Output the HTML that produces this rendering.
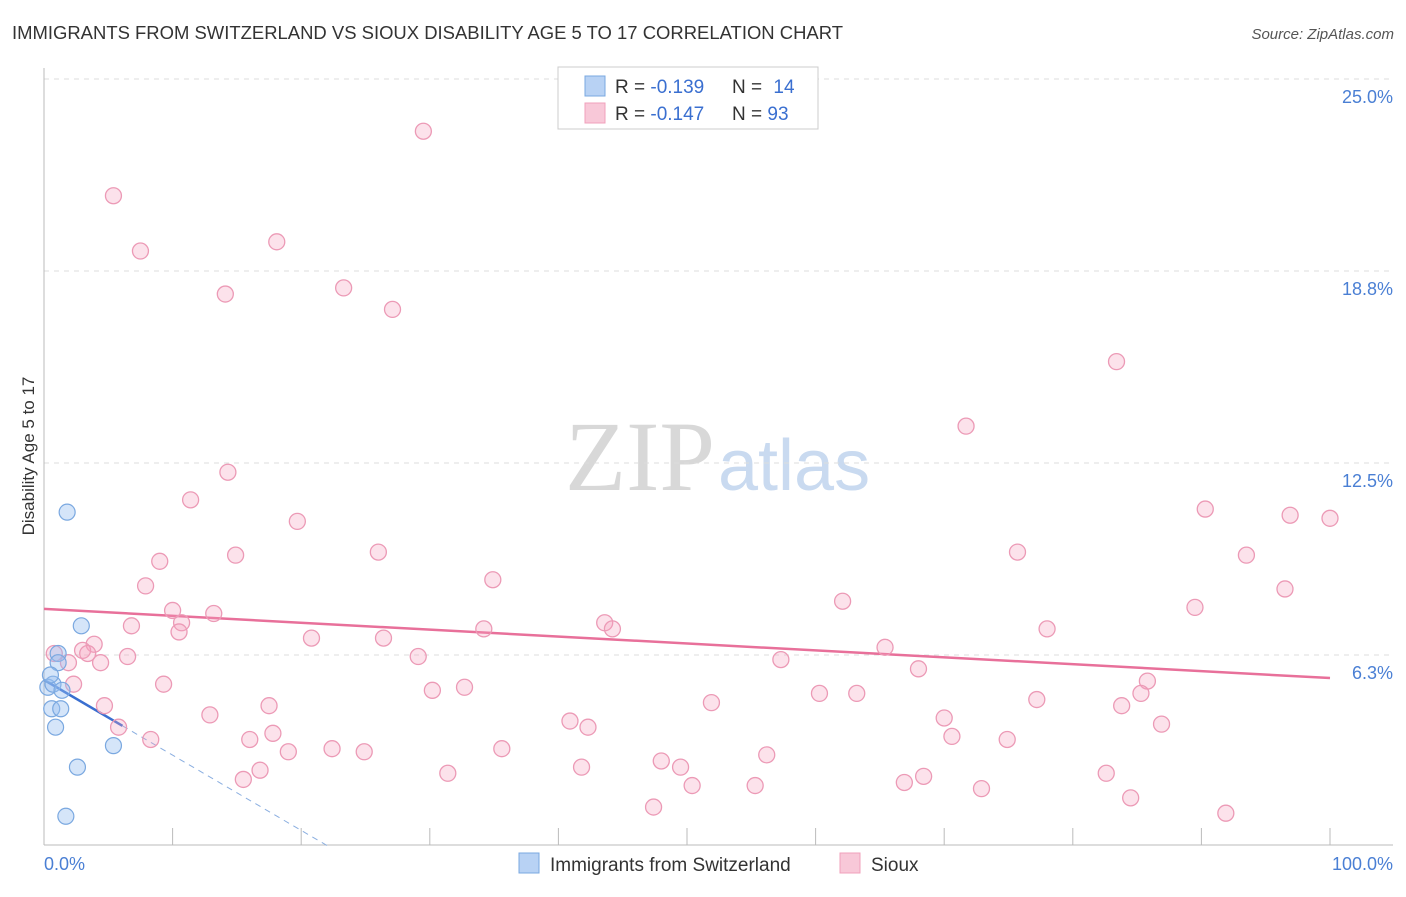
<!DOCTYPE html>
<html><head><meta charset="utf-8"><style>
body{margin:0;background:#fff;font-family:"Liberation Sans",sans-serif;}
svg text{font-family:"Liberation Sans",sans-serif;}
</style></head><body>
<svg id="chart" width="1406" height="892" xmlns="http://www.w3.org/2000/svg">
<text x="12" y="39" font-size="18.4" fill="#333" textLength="831" lengthAdjust="spacingAndGlyphs">IMMIGRANTS FROM SWITZERLAND VS SIOUX DISABILITY AGE 5 TO 17 CORRELATION CHART</text>
<text x="1394" y="39" font-size="15" fill="#555" text-anchor="end" font-style="italic">Source: ZipAtlas.com</text>
<g>
<text x="715" y="490" font-size="100" fill="#d8d8d8" text-anchor="end" style="font-family:'Liberation Serif',serif">ZIP</text>
<text x="718" y="490" font-size="72" fill="#c9daf0">atlas</text>
</g>
<g id="grid"></g>
<g id="axes"></g>
<g id="lines"></g>
<g id="pts"></g>
<text transform="translate(34,456) rotate(-90)" font-size="17" fill="#333" text-anchor="middle">Disability Age 5 to 17</text>
<text x="44" y="870" font-size="18" fill="#4a7fd4">0.0%</text>
<text x="1393" y="870" font-size="18" fill="#4a7fd4" text-anchor="end">100.0%</text>
<g>
<rect x="558" y="67" width="260" height="62" fill="#fff" stroke="#ccc"/>
<rect x="585" y="76" width="20" height="20" fill="#b8d2f4" stroke="#7aa8e0"/>
<rect x="585" y="103" width="20" height="20" fill="#f8c8d8" stroke="#f0a0bb"/>
<text x="615" y="93" font-size="19" fill="#333">R = <tspan fill="#3a6fd0">-0.139</tspan></text>
<text x="732" y="93" font-size="19" fill="#333">N = <tspan fill="#3a6fd0" dx="6">14</tspan></text>
<text x="615" y="120" font-size="19" fill="#333">R = <tspan fill="#3a6fd0">-0.147</tspan></text>
<text x="732" y="120" font-size="19" fill="#333">N = <tspan fill="#3a6fd0">93</tspan></text>
</g>
<g>
<rect x="519" y="853" width="20" height="20" fill="#b8d2f4" stroke="#7aa8e0"/>
<text x="550" y="871" font-size="19" fill="#333">Immigrants from Switzerland</text>
<rect x="840" y="853" width="20" height="20" fill="#f8c8d8" stroke="#f0a0bb"/>
<text x="871" y="871" font-size="19" fill="#333">Sioux</text>
</g>
</svg>
<script>
const yTicks=[6.25,12.5,18.75,25];
const yTickLabels=["6.3%","12.5%","18.8%","25.0%"];
const xTicks=[10,20,30,40,50,60,70,80,90,100];
const pinkX=[29.5,5.4,7.5,18.1,14.1,23.3,27.1,83.4,71.7,14.3,11.4,19.7,90.3,96.9,100,14.9,26.0,9.0,75.7,93.5,7.9,34.9,96.5,62.1,10.0,13.2,89.5,6.8,10.7,10.5,34.2,43.6,44.2,20.8,26.4,78.0,3.9,3.0,0.8,3.4,1.9,4.4,6.5,29.1,57.3,65.4,68.0,2.3,9.3,30.2,32.7,60.3,63.2,85.8,85.3,4.7,17.5,51.9,77.2,83.8,12.9,40.9,42.3,70.0,86.9,5.8,8.3,16.0,17.8,70.6,74.9,19.0,22.4,24.9,35.6,56.2,48.0,41.8,49.5,31.4,15.5,16.8,68.4,82.6,66.9,50.4,55.3,72.9,84.5,47.4,91.9];
const pinkY=[23.3,21.2,19.4,19.7,18.0,18.2,17.5,15.8,13.7,12.2,11.3,10.6,11.0,10.8,10.7,9.5,9.6,9.3,9.6,9.5,8.5,8.7,8.4,8.0,7.7,7.6,7.8,7.2,7.3,7.0,7.1,7.3,7.1,6.8,6.8,7.1,6.6,6.4,6.3,6.3,6.0,6.0,6.2,6.2,6.1,6.5,5.8,5.3,5.3,5.1,5.2,5.0,5.0,5.4,5.0,4.6,4.6,4.7,4.8,4.6,4.3,4.1,3.9,4.2,4.0,3.9,3.5,3.5,3.7,3.6,3.5,3.1,3.2,3.1,3.2,3.0,2.8,2.6,2.6,2.4,2.2,2.5,2.3,2.4,2.1,2.0,2.0,1.9,1.6,1.3,1.1];
const blueX=[1.8,2.9,1.1,1.1,0.3,0.7,1.4,0.6,1.3,0.9,5.4,2.6,1.7,0.5];
const blueY=[10.9,7.2,6.3,6.0,5.2,5.3,5.1,4.5,4.5,3.9,3.3,2.6,1.0,5.6];
const pinkTrend=[7.75,5.5];   // y at x=0, x=100
const blueTrend=[5.44,-0.245]; // intercept, slope per %
const X=v=>44+v*12.86, Y=v=>847-v*30.72;
const NS="http://www.w3.org/2000/svg";
function mk(p,t,a){const e=document.createElementNS(NS,t);for(const k in a)e.setAttribute(k,a[k]);p.appendChild(e);return e;}
const grid=document.getElementById('grid'),axes=document.getElementById('axes'),lines=document.getElementById('lines'),pts=document.getElementById('pts');
yTicks.forEach((t,i)=>{
 const l=mk(grid,'line',{x1:44,x2:1393,y1:Y(t),y2:Y(t),stroke:'#ddd','stroke-dasharray':'5,5'});
 
 
 const tx=mk(grid,'text',{x:1393,y:Y(t)+24,'font-size':18,fill:'#4a7fd4','text-anchor':'end'});
 tx.textContent=yTickLabels[i];
 
 
});
const ya=mk(axes,'line',{x1:44,x2:44,y1:68,y2:845,stroke:'#bbb'});


const xa=mk(axes,'line',{x1:44,x2:1393,y1:845,y2:845,stroke:'#bbb'});


xTicks.forEach(t=>{
 const l=mk(axes,'line',{x1:X(t),x2:X(t),y1:828,y2:845,stroke:'#bbb'});
 
 
});
pinkX.forEach((x,i)=>{
 const c=mk(pts,'circle',{cx:X(x),cy:Y(pinkY[i]),r:8,fill:'rgba(244,160,190,0.3)',stroke:'#ec9ab6','stroke-width':1.3});
 
 
});
blueX.forEach((x,i)=>{
 const c=mk(pts,'circle',{cx:X(x),cy:Y(blueY[i]),r:8,fill:'rgba(150,190,240,0.4)',stroke:'#7aa8e0','stroke-width':1.2});
 
 
});
const pl=mk(lines,'line',{x1:X(0),y1:Y(pinkTrend[0]),x2:X(100),y2:Y(pinkTrend[1]),stroke:'#e8709a','stroke-width':2.5});


const bEnd=6.1, bZero=-blueTrend[0]/blueTrend[1];
const bl=mk(lines,'line',{x1:X(0),y1:Y(blueTrend[0]),x2:X(bEnd),y2:Y(blueTrend[0]+blueTrend[1]*bEnd),stroke:'#3a6fd0','stroke-width':2.5});


const bd=mk(lines,'line',{x1:X(bEnd),y1:Y(blueTrend[0]+blueTrend[1]*bEnd),x2:X(bZero),y2:Y(0),stroke:'#8aaee0','stroke-width':1,'stroke-dasharray':'6,5'});


</script>
</body></html>
